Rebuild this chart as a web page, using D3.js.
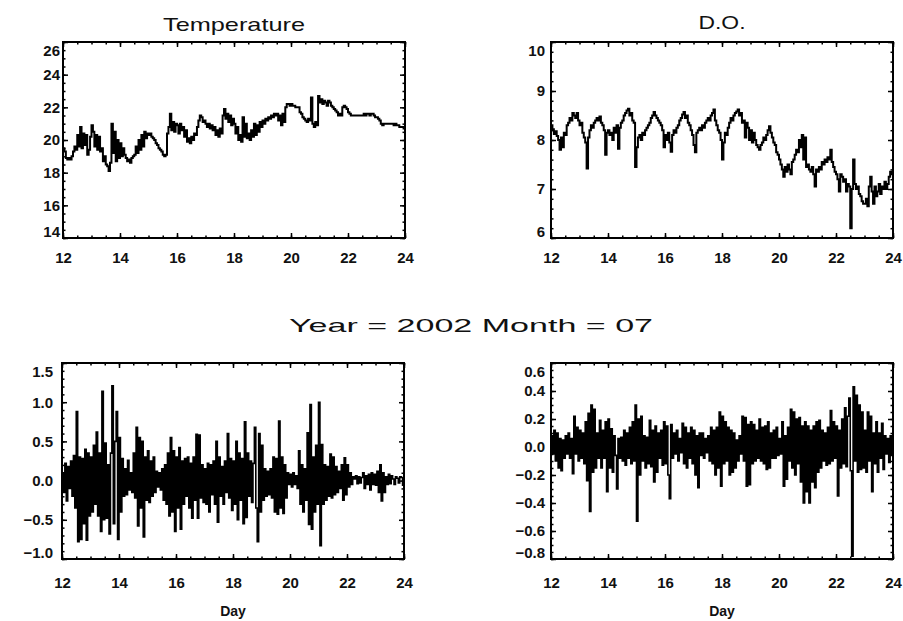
<!DOCTYPE html>
<html>
<head>
<meta charset="utf-8">
<script src="https://cdn.jsdelivr.net/npm/d3@7"></script>
<style>
body { margin: 0; background: #fff; }
svg { display: block; }
.axis text { font-family: "Liberation Sans", Arial, sans-serif; font-size: 15px; font-weight: bold; fill: #111; }
.axis line { stroke: #000; stroke-width: 1.5; }
.title { font-family: "Liberation Sans", Arial, sans-serif; font-size: 19px; fill: #111; }
.xlabel { font-family: "Liberation Sans", Arial, sans-serif; font-size: 14px; font-weight: bold; fill: #111; }
.trace { fill: none; stroke: #000; }
</style>
</head>
<body>
<svg id="chart" width="903" height="621"></svg>
<script>
// samples every 0.05 day (one row = one day), 12.00 .. 24.00
var sampleStart = 12, sampleStep = 0.05;
var dayTicks = [12, 14, 16, 18, 20, 22, 24];

var tempTicks = [14, 16, 18, 20, 22, 24, 26];
var doTicks = [6, 7, 8, 9, 10];
var tempResTicks = [-1.0, -0.5, 0.0, 0.5, 1.0, 1.5];
var doResTicks = [-0.8, -0.6, -0.4, -0.2, 0.0, 0.2, 0.4, 0.6];

var temperature = [
  19.5, 19.3, 18.9, 18.8, 18.9, 18.8, 19.0, 19.3, 19.6, 19.4, 20.3, 19.6, 20.8, 19.5, 20.4, 19.7, 20.3, 19.1, 19.4, 20.2,
  20.9, 20.5, 19.6, 20.3, 19.4, 20.2, 19.3, 19.5, 18.7, 19.0, 18.5, 18.4, 18.1, 18.6, 21.0, 19.2, 20.5, 18.7, 20.0, 18.9,
  19.8, 19.0, 19.5, 19.1, 18.9, 18.7, 18.8, 18.6, 18.9, 19.0, 19.1, 19.6, 19.2, 20.0, 19.4, 20.3, 19.6, 20.5, 20.1, 20.4,
  20.3, 20.4, 20.2, 20.1, 20.0, 19.8, 19.7, 19.5, 19.4, 19.3, 19.1, 19.0, 19.1, 20.4, 20.8, 21.6, 20.6, 21.1, 20.5, 21.0,
  20.9, 20.4, 21.0, 20.6, 20.8, 20.2, 20.6, 19.9, 20.1, 19.8, 20.2, 20.0, 20.4, 20.3, 20.8, 21.2, 21.5, 21.4, 21.1, 21.2,
  21.0, 20.8, 21.0, 20.7, 20.9, 20.6, 20.8, 20.3, 20.6, 20.2, 20.7, 20.4, 21.5, 21.9, 21.3, 21.6, 21.1, 21.5, 20.9, 21.3,
  21.0, 20.4, 20.8, 20.0, 20.3, 19.9, 21.4, 20.2, 21.0, 20.1, 20.4, 20.0, 20.6, 20.2, 21.0, 20.3, 20.9, 20.5, 21.1, 20.8,
  21.2, 21.0, 21.3, 21.2, 21.4, 21.3, 21.5, 21.4, 21.6, 21.5, 21.6, 21.2, 21.5, 20.9, 21.6, 21.1, 22.0, 22.2, 22.2, 22.1,
  22.2, 22.1, 22.1, 22.0, 22.0, 22.0, 21.7, 21.6, 21.4, 21.3, 21.2, 21.1, 21.3, 21.2, 22.6, 21.0, 20.8, 21.1, 20.9, 22.7,
  22.3, 22.5, 22.2, 22.4, 22.3, 22.1, 22.4, 22.3, 22.1, 22.0, 21.9, 21.8, 21.7, 21.5, 21.6, 21.5, 22.0, 22.1, 22.0, 21.9,
  21.7, 21.6, 21.5, 21.5, 21.5, 21.5, 21.5, 21.5, 21.5, 21.5, 21.5, 21.6, 21.5, 21.6, 21.6, 21.5, 21.6, 21.6, 21.5, 21.4,
  21.4, 21.3, 21.2, 21.0, 20.9, 21.0, 21.0, 21.0, 21.0, 21.0, 21.0, 21.0, 20.9, 21.0, 20.9, 20.9, 20.8, 20.8, 20.8, 20.7,
  20.7
];

var dissolvedOxygen = [
  8.30, 8.22, 8.12, 8.18, 8.08, 8.00, 7.80, 8.05, 7.85, 8.15, 8.10, 8.30, 8.35, 8.45, 8.40, 8.55, 8.50, 8.45, 8.55, 8.40,
  8.30, 8.35, 8.15, 8.05, 7.95, 7.42, 8.05, 8.20, 8.30, 8.25, 8.35, 8.40, 8.45, 8.40, 8.48, 8.35, 8.30, 8.20, 7.70, 8.15,
  8.20, 8.10, 8.15, 8.00, 8.25, 8.15, 8.30, 7.82, 8.25, 8.35, 8.40, 8.50, 8.55, 8.60, 8.64, 8.50, 8.55, 8.40, 8.35, 7.45,
  7.85, 8.05, 8.10, 8.00, 8.15, 8.10, 8.20, 8.25, 8.30, 8.35, 8.45, 8.50, 8.57, 8.50, 8.45, 8.40, 8.35, 8.30, 8.20, 7.85,
  8.10, 8.00, 8.15, 7.95, 7.76, 8.10, 8.20, 8.15, 8.25, 8.30, 8.40, 8.45, 8.52, 8.57, 8.45, 8.50, 8.35, 8.30, 8.20, 8.10,
  7.90, 7.75, 8.15, 8.20, 8.25, 8.20, 8.30, 8.25, 8.35, 8.40, 8.45, 8.40, 8.50, 8.55, 8.62, 8.40, 8.30, 8.20, 8.15, 8.00,
  7.60, 7.95, 8.15, 8.10, 8.25, 8.35, 8.45, 8.40, 8.50, 8.55, 8.58, 8.62, 8.50, 8.55, 8.35, 8.40, 8.05, 8.35, 8.25, 8.00,
  8.20, 7.95, 8.15, 8.00, 7.90, 7.85, 7.80, 7.90, 7.95, 8.05, 8.00, 8.10, 8.20, 8.28, 8.15, 8.05, 7.95, 7.90, 7.75, 7.70,
  7.60, 7.50, 7.40, 7.25, 7.45, 7.35, 7.50, 7.40, 7.30, 7.55, 7.60, 7.70, 7.80, 7.75, 8.00, 7.85, 8.10, 7.60, 8.05, 7.45,
  7.50, 7.40, 7.35, 7.45, 7.30, 7.05, 7.40, 7.35, 7.45, 7.40, 7.55, 7.50, 7.60, 7.55, 7.65, 7.60, 7.80, 7.55, 7.45, 7.35,
  7.30, 7.20, 6.95, 7.30, 7.25, 7.15, 7.20, 6.95, 7.10, 7.05, 6.20, 7.00, 7.60, 7.10, 7.00, 7.05, 6.90, 6.85, 6.75, 6.70,
  6.70, 6.80, 6.65, 7.05, 7.25, 6.95, 6.70, 7.05, 6.85, 6.95, 7.10, 6.90, 7.05, 7.00, 7.15, 7.00, 7.10, 7.25, 7.35, 7.30,
  7.35
];

var tempResidual = [
  0.10, -0.15, 0.22, -0.26, 0.18, -0.10, 0.25, -0.20, 0.32, -0.35, 0.88, -0.78, 0.30, -0.75, 0.28, -0.55, 0.40, -0.76, 0.35, -0.45,
  0.30, -0.40, 0.45, -0.30, 0.62, -0.45, 0.35, -0.65, 1.14, -0.50, 0.48, -0.48, 0.20, -0.68, 0.35, 1.21, -0.55, 0.50, 0.88, -0.75,
  0.55, -0.40, 0.28, -0.20, 0.15, -0.18, 0.26, -0.12, 0.10, -0.15, 0.35, -0.22, 0.68, -0.58, 0.55, -0.35, 0.50, -0.72, 0.30, -0.25,
  0.38, -0.28, 0.25, -0.20, 0.30, -0.15, 0.12, -0.08, 0.10, -0.12, 0.15, -0.25, 0.20, -0.30, 0.35, -0.45, 0.55, -0.40, 0.38, -0.65,
  0.30, -0.35, 0.42, -0.62, 0.25, -0.30, 0.28, -0.20, 0.30, -0.35, 0.22, -0.48, 0.30, -0.25, 0.59, -0.48, 0.58, -0.22, 0.20, -0.28,
  0.15, -0.30, 0.22, -0.40, 0.20, -0.18, 0.25, -0.30, 0.50, -0.53, 0.30, -0.20, 0.18, -0.30, 0.25, -0.15, 0.60, -0.22, 0.28, -0.38,
  0.25, -0.30, 0.50, -0.50, 0.35, -0.25, 0.28, -0.55, 0.75, -0.47, 0.35, -0.20, 0.25, -0.28, 0.22, 0.68, -0.35, -0.78, 0.60, -0.40,
  0.45, -0.25, 0.15, -0.20, 0.12, -0.18, 0.15, -0.22, 0.30, -0.40, 0.28, -0.43, 0.76, -0.35, 0.30, -0.42, 0.20, -0.22, 0.10, -0.05,
  0.08, -0.08, 0.10, -0.05, 0.06, -0.10, 0.38, -0.30, 0.20, -0.40, 0.15, -0.25, 0.61, -0.56, 0.97, -0.62, 0.30, -0.40, 0.45, -0.30,
  1.00, -0.83, 0.46, -0.30, 0.20, -0.25, 0.18, -0.20, 0.34, -0.22, 0.30, -0.18, 0.18, -0.15, 0.12, -0.10, 0.20, -0.25, 0.29, -0.18,
  0.20, -0.08, 0.10, -0.05, 0.05, 0.02, 0.06, -0.04, 0.05, -0.03, 0.04, 0.10, -0.10, 0.06, -0.05, 0.08, -0.12, 0.10, -0.05, 0.08,
  -0.06, 0.12, -0.15, 0.20, -0.26, 0.10, -0.15, 0.05, -0.05, 0.08, -0.04, 0.06, 0.02, -0.05, 0.05, 0.03, -0.03, 0.05, 0.04, -0.06,
  0.03
];

var doResidual = [
  0.08, -0.05, 0.12, -0.10, 0.10, -0.15, 0.06, -0.17, 0.05, -0.08, 0.08, -0.05, 0.10, -0.08, 0.06, -0.19, 0.22, -0.05, 0.14, -0.10,
  0.12, -0.08, 0.10, -0.12, 0.18, -0.24, 0.24, -0.46, 0.30, -0.18, 0.27, -0.15, 0.10, -0.08, 0.19, -0.15, 0.12, -0.08, 0.18, -0.32,
  0.20, -0.15, 0.13, -0.18, 0.08, -0.06, -0.30, 0.06, -0.08, 0.07, -0.10, 0.12, -0.13, 0.10, -0.08, 0.14, -0.12, 0.18, -0.10, 0.30,
  -0.53, 0.20, -0.20, 0.22, -0.10, 0.08, -0.15, 0.07, -0.12, 0.19, -0.14, 0.12, -0.25, 0.15, -0.18, 0.10, -0.08, 0.12, -0.13, 0.18,
  -0.12, 0.15, -0.20, -0.37, 0.16, -0.08, 0.10, -0.05, 0.12, -0.10, 0.06, -0.04, 0.17, -0.12, 0.14, -0.15, 0.10, -0.08, 0.14, -0.12,
  0.12, -0.20, 0.08, -0.29, 0.10, -0.06, 0.10, -0.08, 0.06, -0.04, 0.08, -0.10, 0.14, -0.12, 0.12, -0.20, 0.14, -0.15, 0.25, -0.28,
  0.22, -0.12, 0.18, -0.10, 0.14, -0.20, 0.12, -0.18, 0.10, -0.15, 0.05, -0.10, 0.08, -0.05, 0.22, -0.10, 0.21, -0.28, 0.16, -0.27,
  0.18, -0.12, 0.16, -0.10, 0.12, -0.08, 0.20, -0.10, 0.14, -0.12, 0.15, -0.16, 0.18, -0.15, 0.10, -0.08, 0.12, -0.08, 0.14, -0.06,
  0.06, -0.05, 0.18, -0.28, 0.08, -0.23, 0.14, -0.10, 0.27, -0.15, 0.25, -0.20, 0.20, -0.12, 0.21, -0.25, 0.15, -0.40, 0.18, -0.32,
  0.15, -0.40, 0.12, -0.25, 0.15, -0.29, 0.18, -0.18, 0.19, -0.15, 0.12, -0.10, 0.10, -0.13, 0.14, -0.12, 0.26, -0.10, 0.18, -0.08,
  0.15, -0.35, 0.12, -0.15, 0.20, -0.12, 0.28, -0.14, 0.22, 0.35, -0.17, -0.78, 0.43, -0.10, 0.37, -0.18, 0.30, -0.16, 0.25, -0.15,
  0.12, -0.18, 0.25, -0.10, 0.22, -0.32, 0.10, -0.12, 0.18, -0.18, 0.10, -0.08, 0.17, -0.16, 0.08, -0.05, 0.06, -0.11, 0.08, -0.06,
  0.05
];

var svg = d3.select("#chart");

var panels = [
  {title: "Temperature", titleX: 234, titleY: 31, titleLen: 142, values: temperature, ticks: tempTicks, minor: 0.5,
   fmt: d3.format("d"), box: {left: 63, right: 405, top: 42, bottom: 238}, yPad: 3, xPad: 14, lineWidth: 2},
  {title: "D.O.", titleX: 722, titleY: 29, titleLen: 47, values: dissolvedOxygen, ticks: doTicks, minor: 0.2,
   fmt: d3.format("d"), box: {left: 551, right: 893, top: 42, bottom: 238}, yPad: 6, xPad: 14, lineWidth: 2},
  {xLabel: "Day", values: tempResidual, ticks: tempResTicks, minor: 0.1,
   fmt: d3.format(".1f"), box: {left: 62, right: 404, top: 363, bottom: 559}, yPad: 9, xPad: 18, lineWidth: 1.6},
  {xLabel: "Day", values: doResidual, ticks: doResTicks, minor: 0.05,
   fmt: d3.format(".1f"), box: {left: 551, right: 893, top: 363, bottom: 559}, yPad: 6, xPad: 18, lineWidth: 1.6}
];

function addAxis(g, axis, tx, ty) {
  return g.append("g")
    .attr("class", "axis")
    .attr("transform", "translate(" + tx + "," + ty + ")")
    .call(axis)
    .call(s => s.select(".domain").remove());
}

panels.forEach(function(p) {
  var b = p.box,
  g = svg.append("g");

  var x = d3.scaleLinear()
    .domain([dayTicks[0], dayTicks[dayTicks.length - 1]])
    .range([b.left, b.right]);

  var y = d3.scaleLinear()
    .domain(d3.extent(p.ticks))
    .range([b.bottom, b.top]);

  var line = d3.line()
    .x((d, i) => x(sampleStart + i * sampleStep))
    .y(d => y(d))
    .curve(d3.curveStepAfter);

  g.append("path")
    .datum(p.values)
    .attr("class", "trace")
    .attr("stroke-width", p.lineWidth)
    .attr("d", line);

  // minor ticks on all four sides
  var xMinor = d3.range(x.domain()[0], x.domain()[1] + 0.01, 0.5),
  yMinor = d3.range(y.domain()[0], y.domain()[1] + p.minor / 2, p.minor);
  addAxis(g, d3.axisBottom(x).tickValues(xMinor).tickSize(-2.5).tickFormat(""), 0, b.bottom);
  addAxis(g, d3.axisTop(x).tickValues(xMinor).tickSize(-2.5).tickFormat(""), 0, b.top);
  addAxis(g, d3.axisLeft(y).tickValues(yMinor).tickSize(-2.5).tickFormat(""), b.left, 0);
  addAxis(g, d3.axisRight(y).tickValues(yMinor).tickSize(-2.5).tickFormat(""), b.right, 0);

  // major ticks, labelled on bottom and left
  addAxis(g, d3.axisBottom(x).tickValues(dayTicks).tickSize(-5).tickPadding(p.xPad).tickFormat(d3.format("d")), 0, b.bottom);
  addAxis(g, d3.axisTop(x).tickValues(dayTicks).tickSize(-5).tickFormat(""), 0, b.top);
  addAxis(g, d3.axisRight(y).tickValues(p.ticks).tickSize(-5).tickFormat(""), b.right, 0);
  addAxis(g, d3.axisLeft(y).tickValues(p.ticks).tickSize(-5).tickPadding(p.yPad).tickFormat(p.fmt), b.left, 0)
    .selectAll(".tick text")
    .attr("y", d => Math.min(Math.max(y(d), b.top + 9), b.bottom - 6) - y(d));

  g.append("rect")
    .attr("x", b.left)
    .attr("y", b.top)
    .attr("width", b.right - b.left)
    .attr("height", b.bottom - b.top)
    .attr("fill", "none")
    .attr("stroke", "#000")
    .attr("stroke-width", 2);

  if (p.title) {
    g.append("text")
      .attr("class", "title")
      .attr("x", p.titleX)
      .attr("y", p.titleY)
      .attr("text-anchor", "middle")
      .attr("textLength", p.titleLen)
      .attr("lengthAdjust", "spacingAndGlyphs")
      .text(p.title);
  }

  if (p.xLabel) {
    g.append("text")
      .attr("class", "xlabel")
      .attr("x", (b.left + b.right) / 2)
      .attr("y", 616)
      .attr("text-anchor", "middle")
      .text(p.xLabel);
  }
});

svg.append("text")
  .attr("class", "title")
  .attr("x", 471)
  .attr("y", 332)
  .attr("text-anchor", "middle")
  .attr("textLength", 364)
  .attr("lengthAdjust", "spacingAndGlyphs")
  .text("Year = 2002 Month = 07");
</script>
</body>
</html>
